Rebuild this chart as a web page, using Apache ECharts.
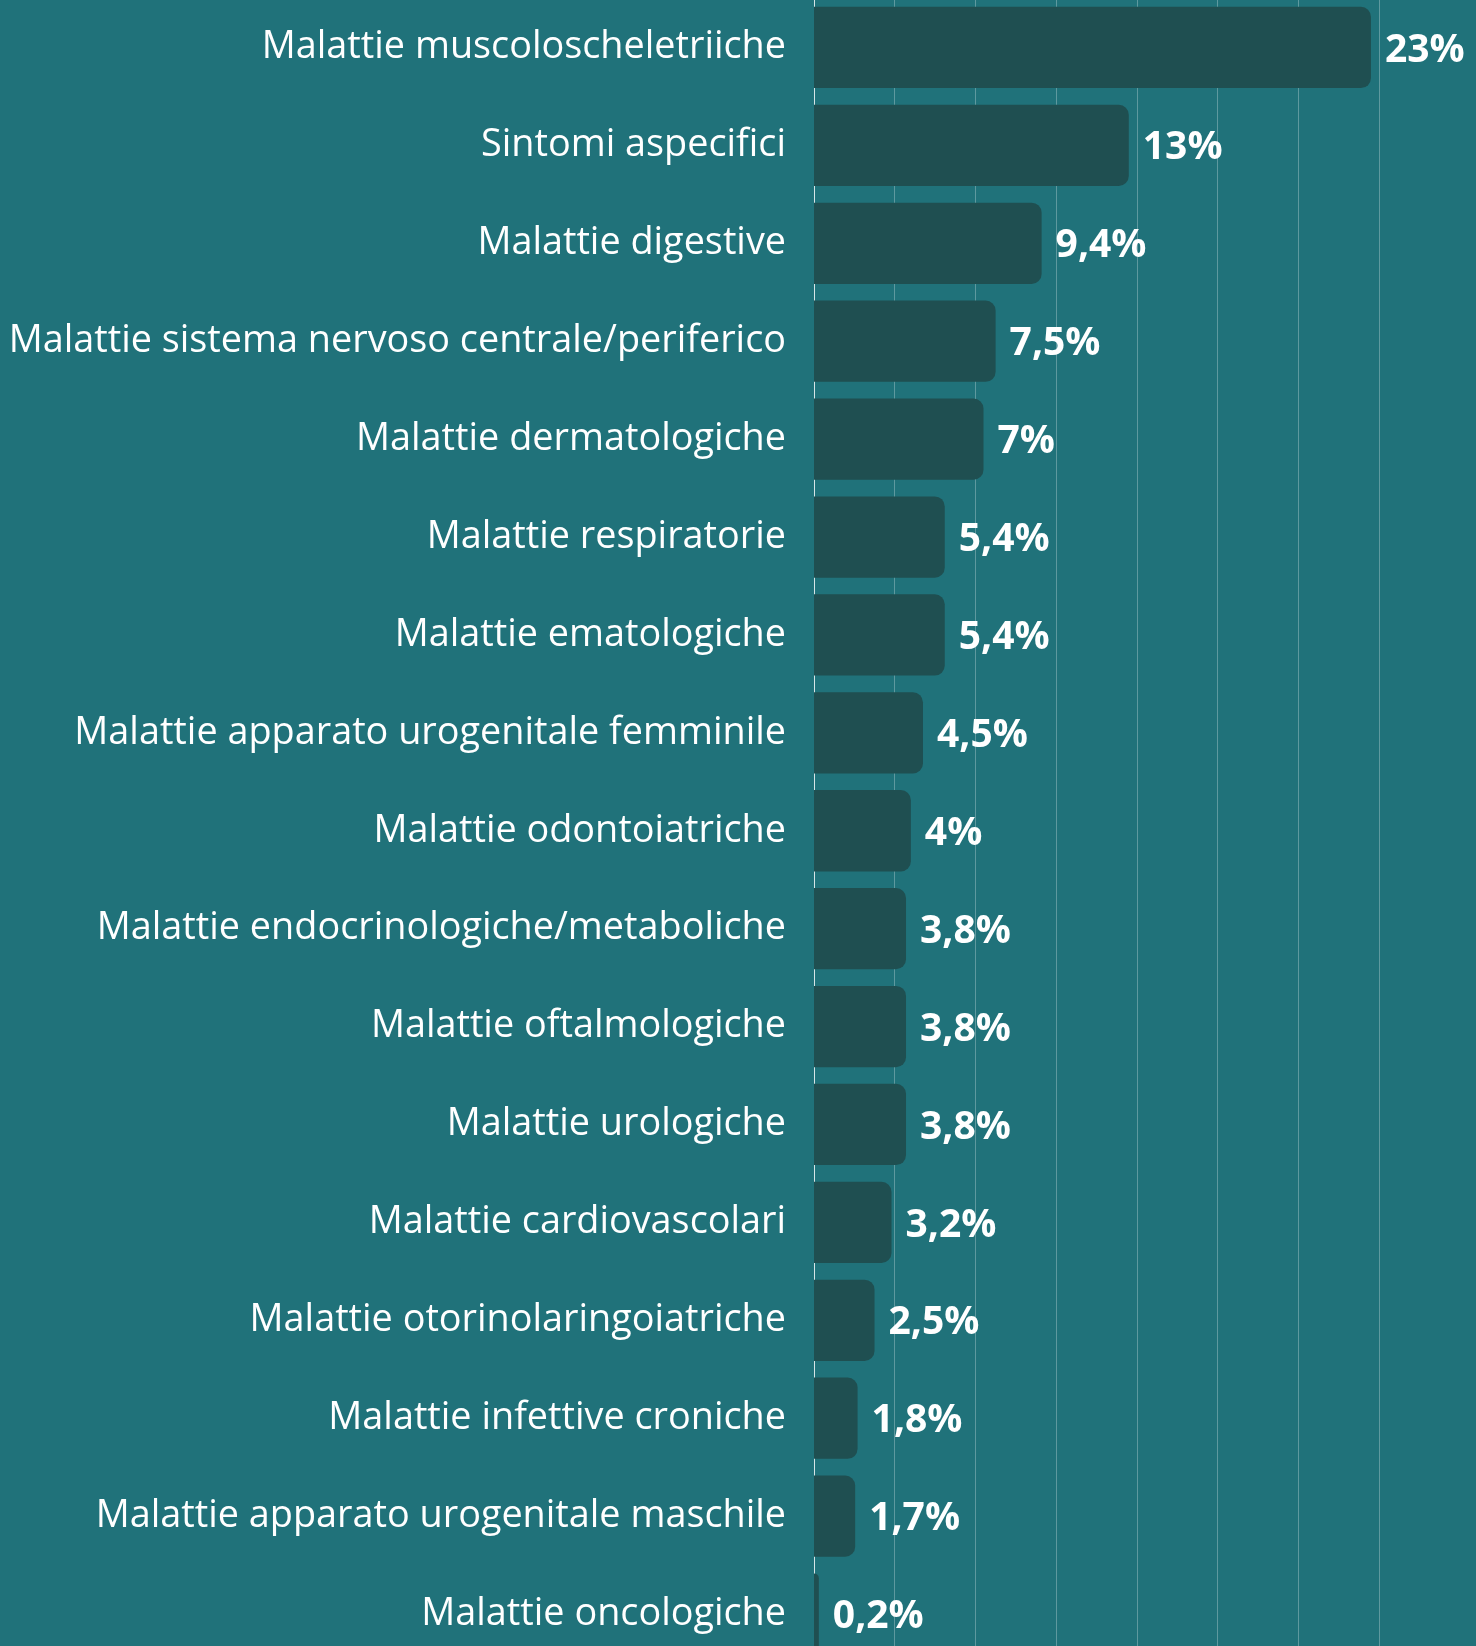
<!DOCTYPE html>
<html>
<head>
<meta charset="utf-8">
<script src="https://cdn.jsdelivr.net/npm/echarts@6/dist/echarts.min.js"></script>
<style>
  html, body { margin: 0; padding: 0; background: #20727a; }
  #chart { width: 1476px; height: 1646px; }
</style>
</head>
<body>
<div id="chart"></div>
<script>
// categorie (dall'alto in basso)
const categories = [
  'Malattie muscoloscheletriiche',
  'Sintomi aspecifici',
  'Malattie digestive',
  'Malattie sistema nervoso centrale/periferico',
  'Malattie dermatologiche',
  'Malattie respiratorie',
  'Malattie ematologiche',
  'Malattie apparato urogenitale femminile',
  'Malattie odontoiatriche',
  'Malattie endocrinologiche/metaboliche',
  'Malattie oftalmologiche',
  'Malattie urologiche',
  'Malattie cardiovascolari',
  'Malattie otorinolaringoiatriche',
  'Malattie infettive croniche',
  'Malattie apparato urogenitale maschile',
  'Malattie oncologiche'
]
// percentuali
const values = [23, 13, 9.4, 7.5, 7, 5.4, 5.4, 4.5, 4, 3.8, 3.8, 3.8, 3.2, 2.5, 1.8, 1.7, 0.2]

const chart = echarts.init(document.getElementById('chart'))

const option = {
  backgroundColor: '#20727a',
  animation: false,
  // la griglia sborda in basso: l'ultima barra è tagliata come nell'originale
  grid: {
    left: 814,
    right: 97,
    top: -1.5,
    height: 1664.5,
    containLabel: false,
    outerBoundsMode: 'none'
  },
  xAxis: {
    type: 'value',
    min: 0,
    max: 70 / 3,
    interval: 10 / 3,
    axisLabel: { show: false },
    axisTick: { show: false },
    axisLine: { show: false },
    splitLine: {
      show: true,
      lineStyle: { color: 'rgba(255,255,255,0.28)', width: 1 }
    }
  },
  yAxis: {
    type: 'category',
    inverse: true,
    data: categories,
    axisTick: { show: false },
    axisLine: {
      show: true,
      lineStyle: { color: 'rgba(255,255,255,0.75)', width: 1 }
    },
    axisLabel: {
      margin: 28,
      color: '#ffffff',
      fontFamily: 'Open Sans',
      fontSize: 37.8,
      fontWeight: 'normal'
    }
  },
  series: [
    {
      type: 'bar',
      data: values,
      barCategoryGap: '17%',
      itemStyle: {
        color: '#1f4f51',
        borderRadius: [0, 10, 10, 0]
      },
      label: {
        show: true,
        position: 'right',
        distance: 14,
        offset: [0, 3],
        color: '#ffffff',
        fontFamily: 'Open Sans',
        fontWeight: 'bold',
        fontSize: 39,
        formatter: p => String(p.value).replace('.', ',') + '%'
      }
    }
  ]
}

chart.setOption(option)
window.addEventListener('resize', () => {
  chart.resize()
})
</script>
</body>
</html>
